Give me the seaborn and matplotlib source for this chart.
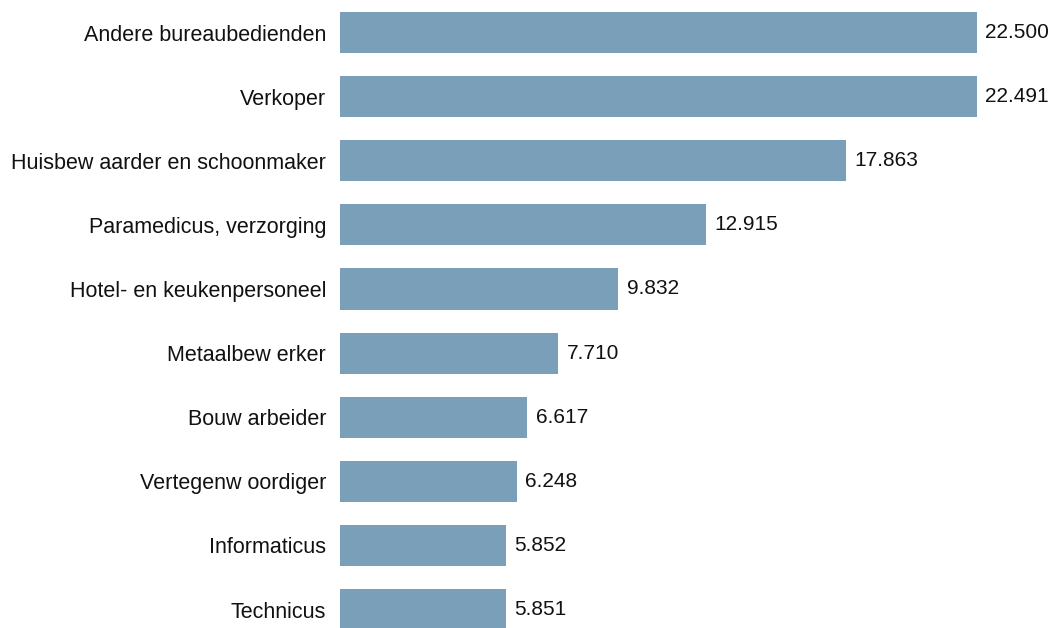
import matplotlib
matplotlib.use('Agg')
import matplotlib.pyplot as plt
import seaborn as sns
import pandas as pd

beroepen = ["Andere bureaubedienden", "Verkoper", "Huisbew aarder en schoonmaker",
            "Paramedicus, verzorging", "Hotel- en keukenpersoneel", "Metaalbew erker",
            "Bouw arbeider", "Vertegenw oordiger", "Informaticus", "Technicus"]
aantallen = [22500, 22491, 17863, 12915, 9832, 7710, 6617, 6248, 5852, 5851]
labels = ["22.500", "22.491", "17.863", "12.915", "9.832", "7.710",
          "6.617", "6.248", "5.852", "5.851"]

df = pd.DataFrame({"beroep": beroepen, "aantal": aantallen})

sns.set_theme(style="white")
plt.rcParams['font.family'] = ['Liberation Sans', 'DejaVu Sans']

fig = plt.figure(figsize=(10.52, 6.28), dpi=100)
ax = fig.add_axes([340 / 1052, 0, 1 - 340 / 1052, 1])

sns.barplot(data=df, x="aantal", y="beroep", orient="h", color="#7a9fb8",
            saturation=1, width=0.64, linewidth=0, ax=ax)

ax.bar_label(ax.containers[0], labels=labels, padding=6, fontsize=15, color="#111111")

ax.set_xlim(0, 25150)
ax.set_ylim(9.287, -0.507)
ax.set_xlabel("")
ax.set_ylabel("")
ax.set_xticks([])
ax.tick_params(axis="y", length=0, pad=10, labelsize=15.5, labelcolor="#111111")
sns.despine(ax=ax, left=True, bottom=True)

fig.savefig("out.png", dpi=100, facecolor="white")
